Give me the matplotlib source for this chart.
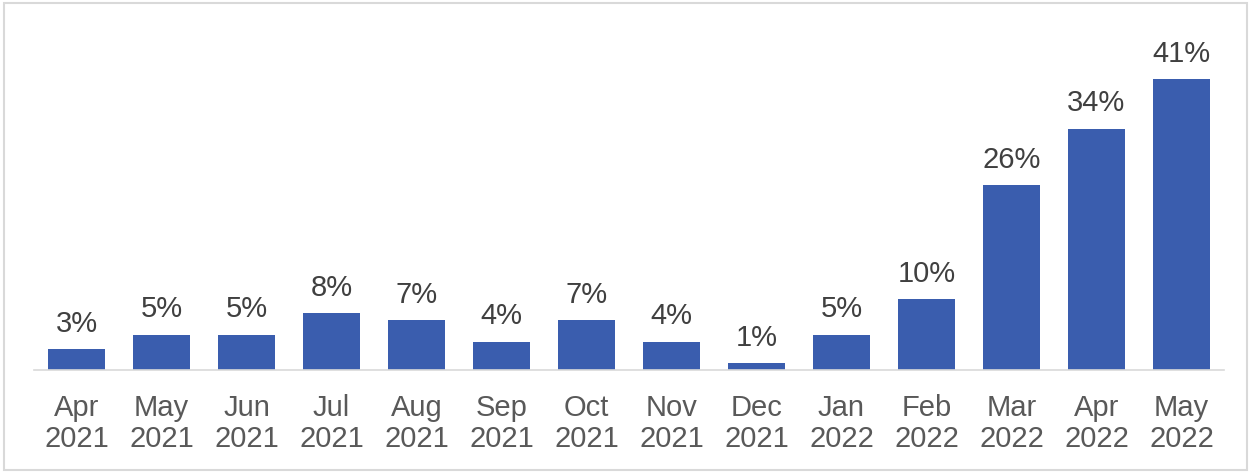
import matplotlib
matplotlib.use("Agg")
import matplotlib.pyplot as plt
from matplotlib.patches import Rectangle

months = ["Apr\n2021", "May\n2021", "Jun\n2021", "Jul\n2021", "Aug\n2021", "Sep\n2021",
          "Oct\n2021", "Nov\n2021", "Dec\n2021", "Jan\n2022", "Feb\n2022", "Mar\n2022",
          "Apr\n2022", "May\n2022"]
shares = [3, 5, 5, 8, 7, 4, 7, 4, 1, 5, 10, 26, 34, 41]

plt.rcParams["font.family"] = ["Liberation Sans", "DejaVu Sans"]

fig = plt.figure(figsize=(12.52, 4.73), dpi=100)
ax = fig.add_axes([34 / 1252, 103 / 473, 1190 / 1252, 350 / 473])

x = range(len(shares))
ax.bar(x, shares, width=0.67, color="#3A5DAE", zorder=2)
for xi, v in zip(x, shares):
    ax.annotate(f"{v}%", (xi, v), xytext=(0, 8), textcoords="offset points",
                ha="center", va="bottom", fontsize=21, color="#404040")

ax.set_xlim(-0.5, len(shares) - 0.5)
ax.set_ylim(0, 350 / 7.1)
ax.set_xticks(list(x))
ax.set_xticklabels(months, fontsize=21, color="#595959", linespacing=1.15)
ax.tick_params(axis="x", length=0, pad=17)
ax.set_yticks([])
for side in ("top", "right", "left"):
    ax.spines[side].set_visible(False)
ax.spines["bottom"].set_color("#D9D9D9")
ax.spines["bottom"].set_linewidth(1.2)

fig.patches.append(Rectangle((4 / 1252, 3 / 473), 1243 / 1252, 467 / 473,
                             transform=fig.transFigure, fill=False,
                             edgecolor="#D9D9D9", linewidth=1.5))

fig.savefig("out.png", dpi=100, facecolor="white")
